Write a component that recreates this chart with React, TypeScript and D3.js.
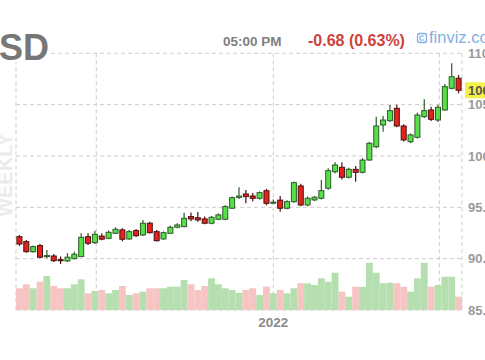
import React, { useEffect, useRef } from 'react';
import * as d3 from 'd3';

// weekly candles, oldest first
const opens = [92.14, 91.66, 90.68, 91.27, 90.2, 90.26, 89.9, 89.78, 90.0, 90.2,
  92.14, 91.56, 92.2, 91.98, 92.47, 92.8, 91.92, 92.73, 92.31, 93.45,
  92.63, 91.92, 92.47, 93.06, 93.12, 94.1, 93.99, 93.87, 93.45, 93.84,
  93.84, 94.91, 95.97, 96.3, 96.1, 95.88, 96.62, 95.4, 95.7, 94.91,
  95.55, 97.08, 95.23, 95.72, 95.88, 96.86, 98.47, 98.9, 97.93, 98.7,
  98.41, 99.61, 100.9, 103.02, 103.44, 104.64, 102.92, 101.39, 101.82, 103.83,
  104.48, 103.5, 104.48, 106.59, 107.57];
const highs = [92.3, 91.82, 91.27, 91.43, 90.85, 90.46, 90.2, 90.53, 90.68, 92.47,
  92.47, 92.73, 92.47, 92.75, 93.06, 92.95, 92.8, 92.9, 93.77, 93.6,
  92.8, 92.65, 93.2, 93.45, 94.48, 94.5, 94.55, 94.1, 94.15, 94.4,
  95.2, 96.05, 96.95, 96.69, 96.4, 96.55, 96.8, 95.75, 96.1, 95.7,
  97.5, 97.3, 96.05, 96.1, 97.66, 98.8, 99.4, 99.4, 98.85, 99.03,
  99.8, 101.35, 103.83, 103.9, 104.97, 105.0, 103.1, 102.2, 104.2, 105.52,
  104.8, 105.0, 107.0, 109.03, 107.89];
const lows = [91.24, 90.58, 90.58, 90.04, 90.04, 89.68, 89.48, 89.68, 89.95, 90.17,
  91.33, 91.43, 91.8, 91.9, 92.4, 91.7, 91.85, 92.1, 92.2, 92.45,
  91.66, 91.85, 92.4, 92.95, 93.05, 93.65, 93.6, 93.35, 93.35, 93.75,
  93.75, 94.85, 95.8, 95.4, 95.6, 95.75, 95.2, 95.3, 94.58, 94.8,
  95.45, 95.1, 95.1, 95.6, 95.75, 96.7, 98.3, 97.7, 97.8, 97.5,
  98.3, 99.5, 100.75, 102.37, 103.3, 102.8, 101.4, 101.25, 101.7, 103.7,
  103.4, 103.3, 104.4, 106.5, 106.1];
const closes = [91.43, 90.68, 91.17, 90.14, 90.3, 89.8, 89.8, 90.14, 90.43, 92.08,
  91.5, 92.37, 91.9, 92.57, 92.86, 91.89, 92.63, 92.24, 93.45, 92.53,
  91.75, 92.53, 93.06, 93.28, 93.93, 93.87, 93.77, 93.45, 94.03, 94.26,
  95.07, 95.94, 96.1, 96.04, 95.88, 96.43, 95.39, 95.5, 94.91, 95.55,
  97.4, 95.23, 95.88, 95.98, 96.62, 98.57, 99.12, 97.93, 98.7, 98.41,
  99.6, 101.24, 102.92, 103.5, 104.41, 102.92, 101.56, 102.05, 103.99, 104.41,
  103.57, 104.74, 106.75, 107.72, 106.4];
const volumes = [217, 257, 217, 283, 340, 240, 217, 217, 257, 307,
  167, 190, 200, 167, 200, 240, 150, 167, 183, 217,
  217, 217, 233, 233, 300, 257, 200, 240, 317, 257,
  217, 200, 173, 200, 217, 150, 233, 167, 200, 167,
  217, 267, 267, 250, 317, 283, 373, 183, 133, 233,
  233, 473, 373, 267, 273, 267, 233, 183, 317, 473,
  233, 250, 333, 333, 133];

const priceTicks = [85, 90, 95, 100, 105, 110];
const gridWeeks = [11.7, 37.5, 61.7];
const yearWeeks = [37.5];
const yearLabels = ['2022'];

const ticker = 'USD';
const timeLabel = '05:00 PM';
const changeLabel = '-0.68 (0.63%)';
const lastPriceLabel = '106.40';
const periodLabel = 'WEEKLY';

const W = 485;
const H = 360;
const FONT = 'Arial, "Liberation Sans", sans-serif';

const App = () => {
  const ref = useRef<SVGSVGElement>(null);

  useEffect(() => {
    if (!ref.current) return;
    const svg = d3.select(ref.current);
    svg.selectAll('*').remove();

    const left = 16, right = 462, top = 53.3, bottom = 310;
    const idx = d3.range(closes.length);
    const x = d3.scaleBand<number>().domain(idx).range([left, right]).padding(0);
    const xw = d3.scaleLinear().domain([0, closes.length]).range([left, right]);
    const y = d3.scaleLinear().domain([85, 110]).range([bottom, top]);
    const vol = d3.scaleLinear().domain([0, 500]).range([0, 50]);
    const up = (i: number) => closes[i] >= opens[i];

    // faint period watermark
    svg.append('text')
      .attr('transform', 'translate(12,175) rotate(-90)')
      .attr('text-anchor', 'middle')
      .attr('font-family', FONT)
      .attr('font-size', 20)
      .attr('font-weight', 'bold')
      .attr('fill', '#ebebeb')
      .text(periodLabel);

    const grid = svg.append('g')
      .attr('stroke', '#cdcdcd')
      .attr('stroke-dasharray', '4,3');

    grid.selectAll('line.h')
      .data(priceTicks)
      .enter()
      .append('line')
      .attr('x1', left)
      .attr('x2', right)
      .attr('y1', d => y(d))
      .attr('y2', d => y(d));

    grid.selectAll('line.v')
      .data([0, closes.length, ...gridWeeks])
      .enter()
      .append('line')
      .attr('x1', d => xw(d))
      .attr('x2', d => xw(d))
      .attr('y1', top)
      .attr('y2', bottom);

    // volume
    svg.append('g')
      .selectAll('rect')
      .data(idx)
      .enter()
      .append('rect')
      .attr('x', i => x(i)!)
      .attr('width', x.bandwidth())
      .attr('y', i => bottom - vol(volumes[i]))
      .attr('height', i => vol(volumes[i]))
      .attr('fill', i => (up(i) ? '#b6dfb0' : '#f6c4c2'));

    // candles
    const c = svg.append('g');
    const cx = (i: number) => x(i)! + x.bandwidth() / 2;

    c.selectAll('line')
      .data(idx)
      .enter()
      .append('line')
      .attr('x1', cx)
      .attr('x2', cx)
      .attr('y1', i => y(highs[i]))
      .attr('y2', i => y(lows[i]))
      .attr('stroke', i => (up(i) ? '#2f5a2a' : '#4a1010'))
      .attr('stroke-width', 1.2);

    c.selectAll('rect')
      .data(idx)
      .enter()
      .append('rect')
      .attr('x', i => cx(i) - 2.5)
      .attr('width', 5)
      .attr('y', i => y(Math.max(opens[i], closes[i])))
      .attr('height', i => Math.max(1, Math.abs(y(opens[i]) - y(closes[i]))))
      .attr('fill', i => (up(i) ? '#55e047' : '#e3241c'))
      .attr('stroke', i => (up(i) ? '#2f5a2a' : '#4a1010'))
      .attr('stroke-width', 1);

    // right price labels
    svg.append('g')
      .selectAll('text')
      .data(priceTicks)
      .enter()
      .append('text')
      .attr('x', 468)
      .attr('y', d => y(d))
      .attr('dy', '0.36em')
      .attr('font-family', FONT)
      .attr('font-size', 13)
      .attr('font-weight', 'bold')
      .attr('fill', '#9a9a9a')
      .text(d => d3.format('.2f')(d));

    // last price marker
    const last = closes[closes.length - 1];
    svg.append('rect')
      .attr('x', 465)
      .attr('y', y(last) - 8)
      .attr('width', 40)
      .attr('height', 16)
      .attr('fill', '#f4f04a');
    svg.append('text')
      .attr('x', 468)
      .attr('y', y(last))
      .attr('dy', '0.36em')
      .attr('font-family', FONT)
      .attr('font-size', 13)
      .attr('font-weight', 'bold')
      .attr('fill', '#555')
      .text(lastPriceLabel);

    // year label
    svg.append('g')
      .selectAll('text')
      .data(yearWeeks)
      .enter()
      .append('text')
      .attr('x', d => xw(d))
      .attr('y', 327)
      .attr('text-anchor', 'middle')
      .attr('font-family', FONT)
      .attr('font-size', 13.5)
      .attr('font-weight', 'bold')
      .attr('fill', '#8a8a8a')
      .text((d, i) => yearLabels[i]);

    // header
    svg.append('rect')
      .attr('x', 0)
      .attr('y', 25)
      .attr('width', 49)
      .attr('height', 37)
      .attr('fill', '#fff');
    svg.append('text')
      .attr('x', 49)
      .attr('y', 59.5)
      .attr('text-anchor', 'end')
      .attr('font-family', FONT)
      .attr('font-size', 36)
      .attr('font-weight', 'bold')
      .attr('fill', '#777')
      .text(ticker);

    svg.append('text')
      .attr('x', 223)
      .attr('y', 46)
      .attr('font-family', FONT)
      .attr('font-size', 13.5)
      .attr('font-weight', 'bold')
      .attr('fill', '#808080')
      .text(timeLabel);

    svg.append('text')
      .attr('x', 308)
      .attr('y', 46)
      .attr('font-family', FONT)
      .attr('font-size', 16)
      .attr('font-weight', 'bold')
      .attr('fill', '#d0413c')
      .text(changeLabel);

    svg.append('rect')
      .attr('x', 417.5)
      .attr('y', 33.5)
      .attr('width', 9)
      .attr('height', 9)
      .attr('rx', 2)
      .attr('fill', 'none')
      .attr('stroke', '#7fb1e3')
      .attr('stroke-width', 1.3);
    svg.append('path')
      .attr('d', 'M424,36 L420,36 L420,40 L424,40')
      .attr('fill', 'none')
      .attr('stroke', '#7fb1e3')
      .attr('stroke-width', 1.2);
    svg.append('text')
      .attr('x', 429)
      .attr('y', 43)
      .attr('font-family', FONT)
      .attr('font-size', 16.5)
      .attr('fill', '#7fb1e3')
      .text('finviz.com');
  }, []);

  return (
    <svg
      ref={ref}
      width={W}
      height={H}
      style={{ position: 'absolute', left: 0, top: 0, background: '#fff' }}
    />
  );
};

export default App;
